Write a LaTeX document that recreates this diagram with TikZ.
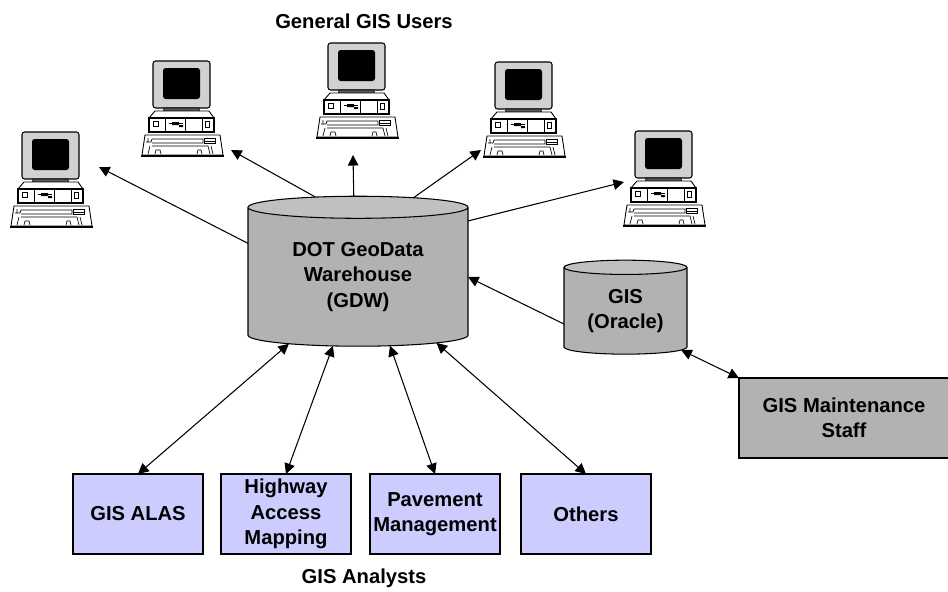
\documentclass[tikz,border=0pt]{standalone}
\usepackage{fontspec}
\setmainfont{Liberation Sans}
\usetikzlibrary{positioning,arrows.meta,shapes.geometric}

\definecolor{dbgray}{HTML}{B2B2B2}
\definecolor{dbtop}{HTML}{C0C0C0}
\definecolor{lilac}{HTML}{CCCCFF}

\tikzset{
  lbl/.style={font=\fontsize{11.5}{14.5}\selectfont\bfseries,align=center},
  wire/.style={line width=0.6pt,-{Triangle[length=6pt,width=6pt]}},
  wiretwo/.style={line width=0.6pt,{Triangle[length=6pt,width=6pt]}-{Triangle[length=6pt,width=6pt]}},
  dbase/.style={lbl,draw,line width=0.6pt,shape=cylinder,shape border rotate=90,inner sep=0pt,outer sep=0pt,
    cylinder uses custom fill,cylinder body fill=dbgray,cylinder end fill=dbtop},
  appbox/.style={lbl,draw,line width=0.6pt,fill=lilac,minimum width=2.6cm,minimum height=1.6cm,inner sep=0pt,outer sep=0pt},
  computer/.pic={
    % monitor
    \draw[line width=0.6pt,fill=black!18,rounded corners=1.5pt] (0,0) rectangle (57,47);
    \fill[black,rounded corners=1.5pt] (10,7) rectangle (47,38);
    \draw[fill=black!65,line width=0.4pt] (11,47) -- (46,47) -- (47,54) -- (10,54) -- cycle;
    % base unit
    \draw[line width=0.5pt,fill=white] (2,50) -- (56,50) -- (61,57) -- (-4,57) -- cycle;
    \draw[line width=0.6pt,fill=white] (-4,57) rectangle (61,71);
    \draw[line width=1.2pt] (61,57) -- (61,71);
    \draw[line width=0.4pt] (12,57) -- (12,71) (32,57) -- (32,71) (49,57) -- (49,71);
    \draw[line width=0.4pt] (0,60) rectangle (5,65) (52,60) rectangle (56,66);
    \draw[line width=0.5pt] (16,62) -- (30,62);
    \fill[black] (19,61) rectangle (26,64) (26,64) rectangle (30,66);
    % keyboard
    \draw[line width=0.5pt,fill=white] (-8,74) -- (67,74) -- (70,94) -- (-11,94) -- cycle;
    \draw[line width=0.4pt] (-5,77) -- (-5,81) (-7,81) -- (-2,81) -- (-1,78) -- (50,78) -- (50,82) -- (-1,82);
    \draw[line width=0.4pt] (51,77) -- (62,77) -- (62,82) -- (51,82) -- cycle (51,80) -- (62,80);
    \draw[line width=0.4pt] (-3,85) -- (-5,93) (58,85) -- (60,93) (-1,85) -- (55,85) (55,85) -- (57,93);
    \draw[line width=0.4pt] (2,93) -- (3,89) -- (7,89) -- (8,93) (44,93) -- (45,89) -- (48,89) -- (49,93);
    \draw[line width=0.7pt] (-12,95) -- (71,95);
  }
}

\begin{document}
\begin{tikzpicture}[x=0.02cm,y=-0.02cm]
\useasboundingbox (0,0) rectangle (948,592);

% Computers of the general users
\foreach \x/\y in {22/132,153/61,328/43,495/62,635/131}
    \pic at (\x,\y) {computer};

% Free ends at the computers
\coordinate (tipA) at (99,167);
\coordinate (tipB) at (231,150);
\coordinate (tipC) at (353,155);
\coordinate (tipD) at (481,150);
\coordinate (tipE) at (624,182);

% Databases
\node[dbase,minimum width=4.4cm,minimum height=3cm,aspect=0.168] (gdw) at (358,277) {DOT GeoData\\Warehouse\\(GDW)};
\node[dbase,minimum width=2.46cm,minimum height=1.88cm,aspect=0.187] (oracle) at (625.5,311) {GIS\\(Oracle)};

% Boxes
\node[appbox] (alas) at (138,514) {GIS ALAS};
\node[appbox] (highway) at (286,514) {Highway\\Access\\Mapping};
\node[appbox] (pavement) at (435,514) {Pavement\\Management};
\node[appbox] (others) at (586,514) {Others};
\node[appbox,fill=dbgray,minimum width=4.2cm] (staff) at (844,418) {GIS Maintenance\\Staff};

% Titles
\node[lbl] (users) at (364,21) {General GIS Users};
\node[lbl] (analysts) at (364,578) {GIS Analysts};

% Warehouse to computers
\draw[wire] (gdw.163) -- (tipA);
\draw[wire] (gdw.118) -- (tipB);
\draw[wire] (gdw.93) -- (tipC);
\draw[wire] (gdw.55) -- (tipD);
\draw[wire] (gdw.27) -- (tipE);

% Oracle feed and staff
\draw[wire] (oracle.192) -- (gdw.0);
\draw[wiretwo] (oracle.-35) -- (staff.north west);

% Analysts
\draw[wiretwo] (alas.north) -- (gdw.224);
\draw[wiretwo] (highway.north) -- (gdw.250);
\draw[wiretwo] (pavement.north) -- (gdw.295);
\draw[wiretwo] (others.north) -- (gdw.320);

\end{tikzpicture}
\end{document}
